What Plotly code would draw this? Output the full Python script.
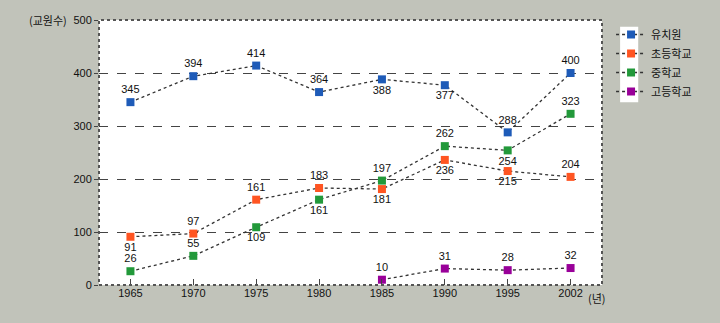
import plotly.graph_objects as go

years = ["1965", "1970", "1975", "1980", "1985", "1990", "1995", "2002"]
kinder = [345, 394, 414, 364, 388, 377, 288, 400]
elem = [91, 97, 161, 183, 181, 236, 215, 204]
middle = [26, 55, 109, 161, 197, 262, 254, 323]
high = [None, None, None, None, 10, 31, 28, 32]

kinder_pos = ["top center", "top center", "top center", "top center", "bottom center", "bottom center", "top center", "top center"]
elem_pos = ["bottom center", "top center", "top center", "top center", "bottom center", "bottom center", "bottom center", "top center"]
middle_pos = ["top center", "top center", "bottom center", "bottom center", "top center", "top center", "bottom center", "top center"]
high_pos = ["top center"] * 8

names = ["유치원", "초등학교", "중학교", "고등학교"]
colors = ["#1e5bb8", "#ff5522", "#22993a", "#990099"]
series = [kinder, elem, middle, high]
positions = [kinder_pos, elem_pos, middle_pos, high_pos]

BG = "#c1c3ba"
fig = go.Figure()
for name, col, vals, pos in zip(names, colors, series, positions):
    fig.add_trace(go.Scatter(
        x=years, y=vals, name=name, mode="lines+markers+text",
        text=[str(v) if v is not None else "" for v in vals],
        textposition=pos,
        textfont=dict(family="Liberation Sans, Arial", size=11, color="#111"),
        line=dict(color="#333", width=1.3, dash="dot"),
        marker=dict(symbol="square", size=8, color=col, line=dict(color=col, width=0)),
        connectgaps=False,
    ))

fig.update_layout(
    width=720, height=323,
    margin=dict(l=99, r=118, t=20, b=38),
    paper_bgcolor=BG, plot_bgcolor="white",
    font=dict(family="Liberation Sans, Arial", size=11, color="#111"),
    legend=dict(x=1.018, y=1.0, xanchor="left", yanchor="top",
                bgcolor="rgba(0,0,0,0)", font=dict(family="Noto Sans CJK KR", size=11, color="#111"),
                itemwidth=30, tracegroupgap=2),
    xaxis=dict(type="category", range=[-0.5, 7.5], showgrid=False,
               ticks="inside", ticklen=6, tickcolor="#444", showline=False,
               tickfont=dict(size=11)),
    yaxis=dict(range=[0, 500], dtick=100, showgrid=True, gridcolor="#444",
               griddash="dash", gridwidth=1, zeroline=False, ticks="outside",
               ticklen=4, tickcolor="#444", showline=False, tickfont=dict(size=11)),
    shapes=[
        dict(type="rect", xref="paper", yref="paper", x0=1.0, x1=1.0, y0=0, y1=1,
             line=dict(width=0)),
        dict(type="rect", xref="paper", yref="paper", x0=0, x1=1, y0=0, y1=1,
             line=dict(color="#555", width=2, dash="dot")),
        dict(type="rect", xref="paper", yref="paper", x0=1.036, x1=1.072, y0=0.69, y1=0.975,
             fillcolor="white", line=dict(width=0), layer="below"),
    ],
    annotations=[
        dict(text="(교원수)", xref="paper", yref="paper", x=-0.06, y=1.0, xanchor="right",
             yanchor="middle", showarrow=False, font=dict(family="Noto Sans CJK KR", size=11, color="#111")),
        dict(text="(년)", xref="paper", yref="paper", x=0.99, y=0, yshift=-13, xanchor="center",
             yanchor="middle", showarrow=False, font=dict(family="Noto Sans CJK KR", size=11, color="#111")),
    ],
)
fig.write_html("out.html")
